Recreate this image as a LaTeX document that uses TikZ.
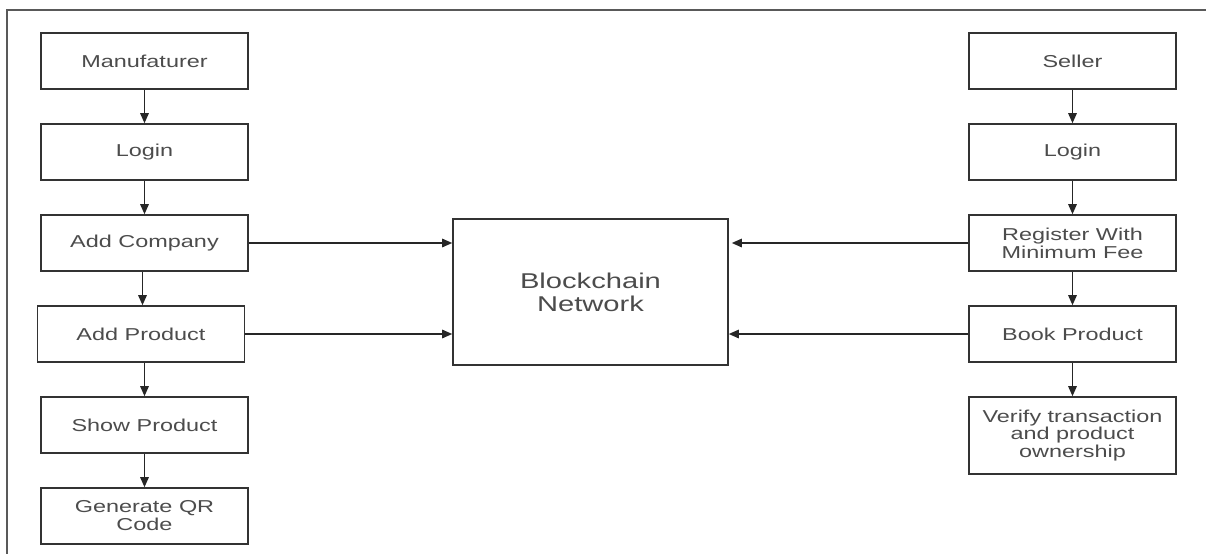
\documentclass[tikz,border=0pt]{standalone}
\usepackage{fontspec}
\setmainfont[FakeStretch=1.36]{Liberation Sans}
\usetikzlibrary{positioning,arrows.meta}

\begin{document}
\begin{tikzpicture}[x=1bp, y=1bp, node distance={33.4bp}, thick,
  main/.style = {draw=black!80, line width=1.6bp, minimum width=207bp, minimum height=56bp, align=center, text=black!70, inner sep=2bp, font=\fontsize{17.3}{18}\selectfont},
  link/.style = {-{Triangle[length=10bp,width=8.5bp]}, line width=1.4bp, draw=black!85}]
		\useasboundingbox (0,0) rectangle (1206,-554);
		\draw[black!65, line width=1.5bp] (1206,-10) -- (7,-10) -- (7,-554);

		% manufacturer side
		\node[main] (man) at (144.5,-61) {Manufaturer};
		\node[main] (mlogin) [below=of man] {Login};
		\node[main] (comp) [below=of mlogin] {Add Company};
		\node[main] (addp) [below=of comp, xshift=-3.5bp] {Add Product};
		\node[main] (showp) [below=of addp, xshift=3.5bp] {Show Product};
		\node[main] (qr) [below=of showp] {Generate QR\\Code};

		% seller side
		\node[main] (sel) at (1072.5,-61) {Seller};
		\node[main] (slogin) [below=of sel] {Login};
		\node[main] (reg) [below=of slogin] {Register With\\Minimum Fee};
		\node[main] (book) [below=of reg] {Book Product};
		\node[main, minimum height=77bp] (ver) [below=of book] {Verify transaction\\and product\\ownership};

		\node[main, minimum width=275bp, minimum height=146bp, font=\fontsize{21.5}{23}\selectfont] (bc) at (590.5,-292) {Blockchain\\Network};

		\draw[link] (man) -- (mlogin);
		\draw[link] (mlogin) -- (comp);
		\draw[link] ([xshift=-2bp]comp.south) -- ([xshift=-2bp]comp.south |- addp.north);
		\draw[link] (addp.south -| showp.north) -- (showp);
		\draw[link] (showp) -- (qr);

		\draw[link] (sel) -- (slogin);
		\draw[link] (slogin) -- (reg);
		\draw[link] (reg) -- (book);
		\draw[link] (book) -- (ver);

		\draw[link] (comp.east) -- (comp.east -| bc.west);
		\draw[link] (addp.east) -- (addp.east -| bc.west);
		\draw[link, shorten >=3bp] (reg.west) -- (reg.west -| bc.east);
		\draw[link] (book.west) -- (book.west -| bc.east);
\end{tikzpicture}
\end{document}
